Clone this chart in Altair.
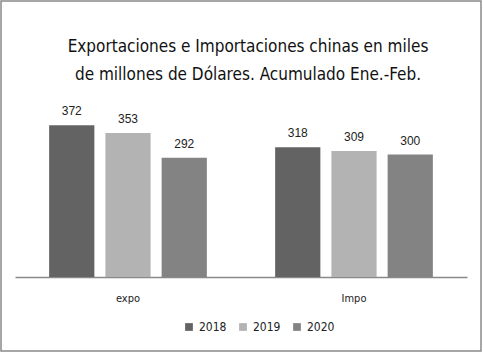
import altair as alt
import pandas as pd

categories = ["expo", "Impo"]
years = ["2018", "2019", "2020"]
expo_values = [372, 353, 292]
impo_values = [318, 309, 300]
colors = ["#636363", "#B3B3B3", "#838383"]
title_line1 = "Exportaciones e Importaciones chinas en miles"
title_line2 = "de millones de Dólares. Acumulado Ene.-Feb."

rows = []
for y, v in zip(years, expo_values):
    rows.append({"cat": "expo", "year": y, "value": v})
for y, v in zip(years, impo_values):
    rows.append({"cat": "Impo", "year": y, "value": v})
df = pd.DataFrame(rows)

FONT_C = "DejaVu Sans Condensed"

base = alt.Chart(df).encode(
    x=alt.X("cat:N", sort=categories, title=None,
            scale=alt.Scale(paddingInner=0, paddingOuter=0),
            axis=alt.Axis(labelAngle=0, ticks=False, domainColor="#898989", domainWidth=1.5,
                          labelPadding=15, labelFont=FONT_C, labelFontSize=11,
                          labelColor="#222222")),
    xOffset=alt.XOffset("year:N", sort=years,
                        scale=alt.Scale(paddingInner=0.196, paddingOuter=0.607)),
    y=alt.Y("value:Q", scale=alt.Scale(domain=[0, 446], nice=False), axis=None),
)

bars = base.mark_bar().encode(
    color=alt.Color("year:N", sort=years,
                    scale=alt.Scale(domain=years, range=colors),
                    legend=alt.Legend(title=None, orient="none", direction="horizontal",
                                      legendX=168, legendY=226, symbolType="square",
                                      symbolSize=60, symbolStrokeWidth=0,
                                      labelFont=FONT_C, labelFontSize=12,
                                      labelColor="#222222", columnPadding=10,
                                      labelOffset=4))
)

labels = base.mark_text(baseline="bottom", dy=-7, font="Liberation Sans",
                        fontSize=12, color="#222222").encode(text="value:Q")

one = alt.Data(values=[{"a": 1}])
border = alt.Chart(one).mark_rect(
    fill=None, stroke="#898989", strokeWidth=1.5
).encode(x=alt.value(-14), x2=alt.value(466), y=alt.value(-94), y2=alt.value(256))

t1 = alt.Chart(one).mark_text(
    font=FONT_C, fontSize=17, color="#111111", baseline="middle", align="center",
    text=title_line1
).encode(x=alt.value(233), y=alt.value(-48))
t2 = alt.Chart(one).mark_text(
    font=FONT_C, fontSize=17, color="#111111", baseline="middle", align="center",
    text=title_line2
).encode(x=alt.value(233), y=alt.value(-20))

chart = alt.layer(border, bars, labels, t1, t2).properties(
    width=452, height=182,
    autosize=alt.AutoSizeParams(type="none"),
    padding={"left": 15, "top": 95, "right": 16, "bottom": 76},
).configure_view(stroke=None)

chart.save("out.html", embed_options={"renderer": "svg", "actions": False})
